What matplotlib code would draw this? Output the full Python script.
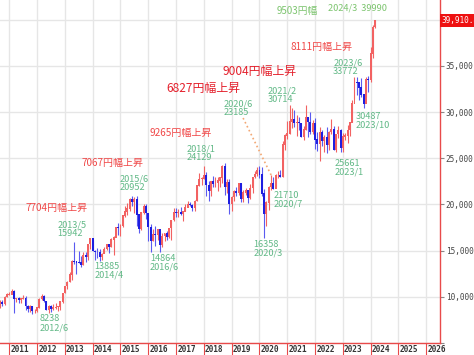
# -*- coding: utf-8 -*-
import matplotlib
matplotlib.use("Agg")
from matplotlib import pyplot as plt
from matplotlib import transforms

plt.rcParams['font.family'] = ['Noto Sans CJK JP', 'DejaVu Sans']

# monthly candles, Nikkei 225, starting 2010/9
first_year, first_month = 2010, 9
first_open = 8824
closes = [
    9369, 9202, 9937, 10229,
    10238, 10624, 9755, 9850, 9694, 9816, 9833, 8955, 8700, 8988, 8435, 8455,
    8803, 9723, 10083, 9521, 8543, 9007, 8695, 8840, 8870, 8928, 9446, 10395,
    11139, 11559, 12398, 13861, 13775, 13677, 13668, 13389, 14456, 14328, 15662, 16291,
    14915, 14841, 14828, 14304, 14632, 15162, 15621, 15425, 16174, 16414, 17460, 17451,
    17674, 18798, 19207, 19520, 20563, 20236, 20585, 18890, 17388, 19083, 19747, 19034,
    17518, 16027, 16759, 16666, 17235, 15576, 16569, 16887, 16450, 17425, 18308, 19114,
    19041, 19119, 18909, 19197, 19651, 20033, 19925, 19646, 20356, 22012, 22725, 22765,
    23098, 22068, 21454, 22468, 22202, 22305, 22554, 22865, 24120, 21920, 22351, 20015,
    20773, 21385, 21206, 22259, 20601, 21276, 21522, 20704, 21756, 22927, 23294, 23657,
    23205, 21143, 18917, 20194, 21878, 22288, 21710, 23140, 23185, 22977, 26434, 27444,
    27663, 28966, 29179, 28813, 28860, 28792, 27284, 28090, 29453, 28893, 27822, 28792,
    27002, 26527, 27821, 26848, 27280, 26393, 27802, 28092, 25937, 27587, 27969, 26095,
    27327, 27446, 28041, 28856, 30888, 33189, 33172, 32619, 31858, 30859, 33487, 33464,
    36287, 39166, 39910,
]
highs = [
    9691, 9691, 10115, 10394,
    10519, 10891, 10693, 9867, 10017, 9876, 10207, 10040, 9112, 9152, 9050, 8717,
    8908, 9866, 10255, 10190, 9536, 9066, 9138, 9222, 9288, 9032, 9484, 10433,
    11191, 11662, 12650, 13980, 15942, 13885, 14953, 14466, 14817, 14808, 15727, 16320,
    16164, 15087, 15312, 15164, 14707, 15376, 15759, 15531, 16374, 16533, 17520, 18030,
    17851, 18826, 19778, 20133, 20655, 20952, 20850, 20946, 18855, 19187, 20012, 20013,
    18951, 17905, 17291, 17613, 17251, 17099, 16938, 16947, 17129, 17465, 18330, 19592,
    19615, 19449, 19668, 19289, 19998, 20318, 20223, 20080, 20481, 22011, 23382, 23000,
    24129, 23486, 22502, 22495, 23050, 22966, 22949, 22960, 24286, 24448, 22698, 22698,
    20940, 21556, 21860, 22307, 22362, 21549, 21823, 21540, 22255, 22975, 23608, 24092,
    24116, 24083, 21719, 20365, 21968, 23185, 22964, 23338, 23622, 23672, 26824, 27602,
    28979, 30714, 30485, 30208, 29685, 29480, 28852, 28474, 30795, 29489, 29960, 29121,
    29388, 27880, 28338, 28000, 27500, 28389, 27897, 29222, 28532, 27587, 28502, 28183,
    27697, 27697, 28624, 28880, 31352, 33772, 33753, 33047, 33634, 31950, 33811, 33853,
    36984, 39426, 39990,
]
lows = [
    8796, 9027, 9123, 9933,
    10205, 10285, 8227, 9404, 9370, 9318, 9765, 8619, 8359, 8343, 8135, 8272,
    8349, 8793, 9698, 9388, 8521, 8238, 8328, 8555, 8664, 8488, 8619, 9380,
    10398, 10868, 11606, 11805, 13555, 12415, 13605, 13188, 13444, 13748, 13962, 15150,
    14914, 13995, 14203, 13885, 13964, 14735, 15082, 14753, 15379, 14529, 16720, 16672,
    16592, 17528, 18641, 18858, 19261, 19815, 19115, 17714, 16901, 17254, 18972, 18410,
    16017, 14865, 15990, 15471, 16101, 14864, 15351, 16026, 16112, 16353, 16111, 18233,
    18650, 18650, 18820, 18224, 19263, 19694, 19813, 19280, 19238, 20400, 21972, 22100,
    22765, 20950, 20347, 20883, 21931, 21858, 21462, 21851, 22307, 20971, 21243, 18949,
    19241, 20315, 20911, 21038, 20288, 20289, 21045, 20110, 20625, 21276, 22850, 23044,
    22892, 20916, 16358, 17646, 19374, 21529, 21710, 21893, 22880, 22948, 22952, 25935,
    27055, 27629, 28308, 28419, 27385, 28010, 27272, 26954, 28070, 27293, 27588, 27594,
    26044, 25775, 24681, 26319, 25688, 25520, 25935, 27594, 25937, 25621, 27200, 25716,
    25661, 27000, 26632, 27427, 28877, 31450, 31791, 31275, 31674, 30487, 31601, 32205,
    33288, 35855, 39100,
]
last_price = 39910.82

# turning points: date label, value, high or low
pivot_dates = ["2012/6", "2013/5", "2014/4", "2015/6", "2016/6", "2018/1", "2020/3",
               "2020/6", "2020/7", "2021/2", "2023/1", "2023/6", "2023/10", "2024/3"]
pivot_values = [8238, 15942, 13885, 20952, 14864, 24129, 16358,
                23185, 21710, 30714, 25661, 33772, 30487, 39990]
pivot_high = [False, True, False, True, False, True, False,
              True, False, True, False, True, False, True]
# pairs (low index, high index) for the rise labels
rises = [(0, 1), (2, 3), (4, 5), (6, 7), (8, 9), (10, 11), (12, 13)]
years = list(range(2011, 2027))

# layout (left edge, vertical centre) in data units
pivot_pos = [(2012.10, 7143), (2012.73, 17338), (2014.06, 12793), (2014.98, 22284),
             (2016.06, 13658), (2017.38, 25564), (2019.79, 15174), (2018.72, 30434),
             (2020.52, 20510), (2020.29, 31841), (2022.71, 23995), (2022.65, 34850),
             (2023.47, 29027), (2022.46, 41257)]
rise_pos = [(2011.59, 19611), (2013.60, 24514), (2016.06, 27728), (2016.64, 32599),
            (2018.68, 34363), (2021.13, 37036), (2020.63, 40932)]
rise_bold = [False, False, False, True, True, False, False]

UP = '#f26262'
DOWN = '#1e1ee0'
AXIS_RED = '#e84a4a'
GREEN = '#62b987'
LIME = '#7cc46e'

fig = plt.figure(figsize=(4.74, 3.55), dpi=100)
ax = fig.add_axes([0, 12 / 355, 440 / 474, 343 / 355])

# candles
opens = [first_open] + closes[:-1]
for i, (o, h, l, c) in enumerate(zip(opens, highs, lows, closes)):
    x = first_year + (first_month - 1 + i) / 12.0
    up = c >= o
    ax.vlines(x, l, h, color=UP if up else '#5a5af0', linewidth=0.8, zorder=3)
    ax.bar(x, abs(c - o) + 50, bottom=min(o, c), width=0.07,
           color=UP if up else DOWN, linewidth=0, zorder=4)

# dotted guide to the 2020/6 high
ax.plot([2019.41, 2020 + 5 / 12.0], [29350, pivot_values[7]], linestyle=':',
        color='#f3a874', linewidth=1.2, zorder=2)

# pivot labels
for d, v, hi, (px, py) in zip(pivot_dates, pivot_values, pivot_high, pivot_pos):
    col = GREEN
    if d == "2024/3":
        txt = "%s  %d" % (d, v)
        col = LIME
    elif hi:
        txt = "%s\n%d" % (d, v)
    else:
        txt = "%d\n%s" % (v, d)
    ax.text(px, py, txt, color=col, fontsize=6.6, ha='left', va='center',
            linespacing=0.95, zorder=6)

# rise labels
for (a, b), (px, py), bold in zip(rises, rise_pos, rise_bold):
    diff = pivot_values[b] - pivot_values[a]
    if b == 13:
        ax.text(px, py, "%d円幅" % diff, color=LIME, fontsize=7.0,
                ha='left', va='center', zorder=6)
    elif bold:
        ax.text(px, py, "%d円幅上昇" % diff, color='#e4202c', fontsize=8.6,
                ha='left', va='center', zorder=6)
    else:
        ax.text(px, py, "%d円幅上昇" % diff, color='#f04848', fontsize=7.2,
                ha='left', va='center', zorder=6)

# axis limits
ax.set_xlim(2010.6655, 2026.493)
ax.set_ylim(5000, 42123)

# grid lines
ax.set_xticks(years)
ax.set_yticks(range(5000, 45000, 5000))
ax.grid(color='#e6e6e6', linewidth=1.0, zorder=0)
ax.set_axisbelow(True)

for s in ['top', 'left']:
    ax.spines[s].set_visible(False)
for s in ['right', 'bottom']:
    ax.spines[s].set_color(AXIS_RED)
    ax.spines[s].set_linewidth(1.0)

# x ticks: red marks, labels to the right of them
ax.tick_params(axis='x', direction='out', length=12, color=AXIS_RED,
               labelbottom=False)
trans = transforms.blended_transform_factory(ax.transData, ax.transAxes)
for yr in years:
    ax.text(yr + 0.04, -0.018, str(yr), transform=trans, ha='left', va='center',
            fontsize=5.6, family='DejaVu Sans Mono', weight='bold', color='#333333')

# y ticks on the right (cut at the edge, as on the site)
ax.yaxis.tick_right()
ylabels = ['' if (v == 5000 or v == 40000) else '{:,.2f}'.format(v)
           for v in range(5000, 45000, 5000)]
ax.set_yticklabels(ylabels, family='DejaVu Sans Mono', fontsize=5.6,
                   color='#444444')
ax.tick_params(axis='y', direction='out', length=3, pad=1, color='#888888')

# current price box
transy = transforms.blended_transform_factory(ax.transAxes, ax.transData)
ax.text(1.004, last_price, '{:,.2f}'.format(last_price), transform=transy,
        ha='left', va='center', fontsize=5.6, family='DejaVu Sans Mono',
        color='white', zorder=7,
        bbox=dict(boxstyle='square,pad=0.25', facecolor='#ee1111',
                  edgecolor='none'))

plt.savefig('out.png', dpi=100)
